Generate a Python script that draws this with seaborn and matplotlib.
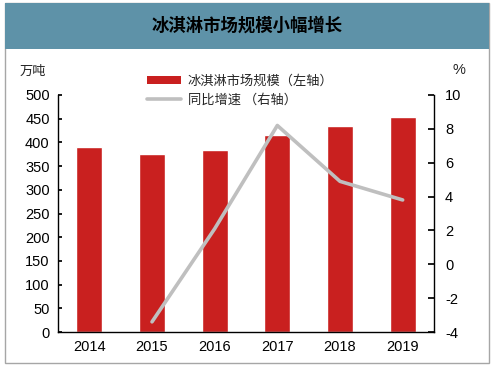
import numpy as np
import pandas as pd
import matplotlib
matplotlib.use("Agg")
import matplotlib.pyplot as plt
import seaborn as sns
from matplotlib.patches import Rectangle
from matplotlib.lines import Line2D
from matplotlib.patches import Patch

years = ["2014", "2015", "2016", "2017", "2018", "2019"]
scale = [391, 376, 384, 415, 435, 453]          # 万吨, left axis
growth = [np.nan, -3.4, 2.1, 8.2, 4.9, 3.8]     # %, right axis

title = "冰淇淋市场规模小幅增长"
bar_label = "冰淇淋市场规模（左轴）"
line_label = "同比增速 （右轴）"

sns.set_theme(style="white")
plt.rcParams['font.family'] = ['Liberation Sans', 'Noto Sans CJK SC', 'DejaVu Sans']
plt.rcParams['axes.unicode_minus'] = False

df = pd.DataFrame({"year": years, "scale": scale, "growth": growth})

fig = plt.figure(figsize=(4.94, 3.68), dpi=100)

# outer frame and title band (kept behind the axes)
fig.patches.append(Rectangle((5/494, 1 - 363/368), 484/494, 360/368, transform=fig.transFigure,
                             facecolor="white", edgecolor="#A6A6A6", lw=1.0, zorder=-2))
fig.patches.append(Rectangle((5/494, 1 - 49/368), 484/494, 46/368, transform=fig.transFigure,
                             facecolor="#5E92A8", edgecolor="none", zorder=-1))
fig.text(0.5, 1 - 26/368, title, ha="center", va="center", fontsize=12.5, fontweight="bold",
         family=['Noto Sans CJK SC'], color="black")

ax = fig.add_axes([58/494, 1 - 332/368, 376/494, 237/368])
ax.set_facecolor("none")
sns.barplot(data=df, x="year", y="scale", color="#C9201F", width=0.41, saturation=1, ax=ax)
ax.set_ylim(0, 500)
ax.set_yticks(range(0, 501, 50))
ax.set_xlabel("")
ax.set_ylabel("")
for s in ["top", "right"]:
    ax.spines[s].set_visible(False)
for s in ["left", "bottom"]:
    ax.spines[s].set_color("black")
    ax.spines[s].set_linewidth(1.0)
ax.tick_params(axis="y", direction="in", length=3, labelsize=10.5, colors="black", pad=6)
ax.tick_params(axis="x", length=0, labelsize=10.5, colors="black", pad=6)
ax.set_xticks(np.arange(-0.5, 6, 1), minor=True)
ax.tick_params(axis="x", which="minor", direction="in", length=4, color="black")

ax2 = ax.twinx()
sns.lineplot(x=np.arange(6), y=growth, color="#BFBFBF", lw=2.6, ax=ax2)
ax2.set_ylim(-4, 10)
ax2.set_yticks(range(-4, 11, 2))
ax2.set_xlim(-0.5, 5.5)
ax.set_xlim(-0.5, 5.5)
for s in ["top", "left", "bottom"]:
    ax2.spines[s].set_visible(False)
ax2.spines["right"].set_color("black")
ax2.spines["right"].set_linewidth(1.0)
ax2.tick_params(axis="y", direction="in", length=4, labelsize=10.5, colors="black", pad=8)

fig.text(20/494, 1 - 71/368, "万吨", fontsize=9.5, family=['Noto Sans CJK SC'], va="center")
fig.text(452/494, 1 - 70/368, "%", fontsize=10.5, va="center")

handles = [Patch(facecolor="#C9201F", edgecolor="none"),
           Line2D([0], [0], color="#BFBFBF", lw=2.6)]
leg = ax.legend(handles, [bar_label, line_label], loc="upper left",
                bbox_to_anchor=(135/494, 1 - 63/368), bbox_transform=fig.transFigure,
                frameon=False, prop={"family": ['Noto Sans CJK SC'], "size": 9.5},
                handlelength=2.6, handleheight=0.6, labelspacing=0.45, handletextpad=0.5)

fig.savefig("out.png", dpi=100)
